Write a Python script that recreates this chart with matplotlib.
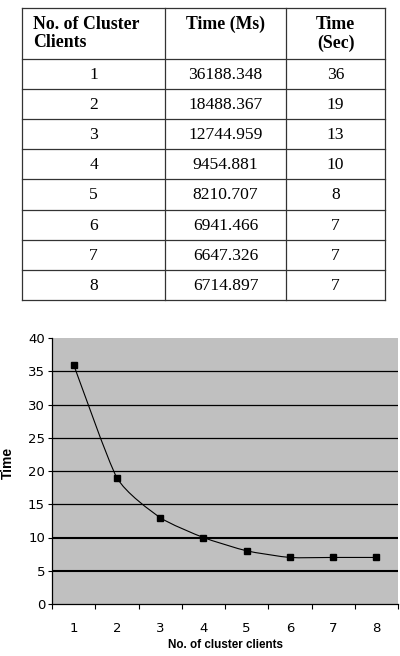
import matplotlib.pyplot as plt
from matplotlib.path import Path
from matplotlib.patches import PathPatch
import numpy as np

# table data
clients = [1, 2, 3, 4, 5, 6, 7, 8]
time_ms = ["36188.348", "18488.367", "12744.959", "9454.881",
           "8210.707", "6941.466", "6647.326", "6714.897"]
time_sec = [36, 19, 13, 10, 8, 7, 7, 7]
headers = ["No. of Cluster\nClients", "Time (Ms)", "Time\n(Sec)"]

fig = plt.figure(figsize=(4, 6.56), dpi=100)

# ---- table drawn in pixel coords on a full-figure axes
tab = fig.add_axes([0, 0, 1, 1])
tab.set_xlim(0, 400)
tab.set_ylim(656, 0)
tab.axis("off")

col_edges = [22, 165, 286, 385]
head_top, head_bot, row_h = 8, 59, 30.1
row_edges = [head_top, head_bot] + [head_bot + row_h * (i + 1) for i in range(len(clients))]
lc = "#333333"
for x in col_edges:
    tab.plot([x, x], [row_edges[0], row_edges[-1]], color=lc, lw=0.9)
for y in row_edges:
    tab.plot([col_edges[0], col_edges[-1]], [y, y], color=lc, lw=0.9)

serif = "Liberation Serif"
hs = 12.8
tab.text(33, 16, headers[0], ha="left", va="top", fontsize=hs, fontweight="bold",
         family=serif, linespacing=1.1)
tab.text((col_edges[1] + col_edges[2]) / 2, 16, headers[1], ha="center", va="top",
         fontsize=hs, fontweight="bold", family=serif)
tab.text((col_edges[2] + col_edges[3]) / 2, 16, headers[2], ha="center", va="top",
         fontsize=hs, fontweight="bold", family=serif, linespacing=1.1)

for i, (c, ms, s) in enumerate(zip(clients, time_ms, time_sec)):
    yc = (row_edges[i + 1] + row_edges[i + 2]) / 2
    for j, txt in enumerate([str(c), ms, str(s)]):
        tab.text((col_edges[j] + col_edges[j + 1]) / 2, yc + 1, txt, ha="center",
                 va="center", fontsize=12.6, family=serif)

# ---- line chart
ax = fig.add_axes([52 / 400, 52 / 656, 346 / 400, 266 / 656])
ax.set_facecolor("#c0c0c0")
ax.set_xlim(0.5, 8.5)
ax.set_ylim(0, 40)

for v in range(5, 40, 5):
    ax.axhline(v, color="black", lw=1.5 if v in (5, 10) else 0.9, zorder=1)

# smoothed line like Excel (bezier through the points)
pts = np.column_stack([clients, time_sec]).astype(float)
ext = np.vstack([pts[0], pts, pts[-1]])
verts = [tuple(pts[0])]
codes = [Path.MOVETO]
k = 10.0
for i in range(1, len(ext) - 2):
    p0, p1, p2, p3 = ext[i - 1], ext[i], ext[i + 1], ext[i + 2]
    verts += [tuple(p1 + (p2 - p0) / k), tuple(p2 - (p3 - p1) / k), tuple(p2)]
    codes += [Path.CURVE4] * 3
ax.add_patch(PathPatch(Path(verts, codes), facecolor="none", edgecolor="black",
                       lw=0.8, zorder=2))
ax.plot(clients, time_sec, ls="none", marker="s", ms=4.5, color="black", zorder=3)

ax.spines["top"].set_visible(False)
ax.spines["right"].set_visible(False)
ax.spines["left"].set_linewidth(0.9)
ax.spines["bottom"].set_linewidth(0.9)

ax.set_yticks(range(0, 45, 5))
ax.set_xticks(np.arange(0.5, 9, 1))
ax.set_xticklabels([])
ax.set_xticks(clients, minor=True)
ax.set_xticklabels([str(c) for c in clients], minor=True)
ax.tick_params(axis="x", which="major", length=3.5, width=0.8, direction="out")
ax.tick_params(axis="x", which="minor", length=0, pad=13, labelsize=9.5)
ax.tick_params(axis="y", length=3, width=0.8, labelsize=9.5, pad=2)
for lab in ax.get_xticklabels(minor=True) + ax.get_yticklabels():
    lab.set_family("DejaVu Sans")

ax.set_xlabel("No. of cluster clients", fontsize=8.4, fontweight="bold",
              family="Liberation Sans", labelpad=3)
fig.text(8 / 400, 1 - 463 / 656, "Time", rotation=90, ha="center", va="center",
         fontsize=10, fontweight="bold", family="Liberation Sans")

fig.savefig("out.png", dpi=100)
